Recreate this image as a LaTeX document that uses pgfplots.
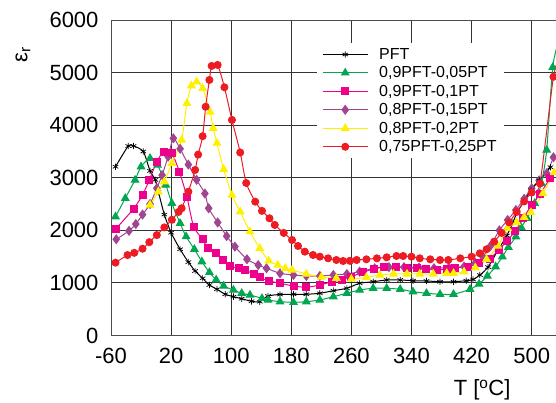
\documentclass[border=0pt]{standalone}
\usepackage{fontspec}
\setmainfont{Liberation Sans}
\usepackage{pgfplots}
\pgfplotsset{compat=1.18}
\usepackage{pgfplotstable}
\usetikzlibrary{calc}
\definecolor{cgreen}{RGB}{0,166,80}
\definecolor{cmag}{RGB}{236,0,140}
\definecolor{cpur}{RGB}{160,70,145}
\definecolor{cyel}{RGB}{255,240,0}
\definecolor{cred}{RGB}{237,28,36}

\pgfplotstableread{
x y
-54 3210
-37 3604
-30 3604
-17 3500
-8 3130
-1 2960
3 2735
11 2300
20 1955
32 1640
43 1395
52 1227
62 1088
71 960
81 879
92 784
103 738
114 700
127 650
138 643
149 751
165 780
183 784
200 784
218 803
236 852
254 898
271 993
289 1023
307 1056
325 1056
342 1042
360 1037
378 1023
396 1023
413 1042
422 1065
431 1150
442 1300
455 1620
467 1900
475 2150
481 2350
490 2550
499 2760
510 2950
525 3200
}\tblPFT

\pgfplotstableread{
x y
-54 2260
-41 2610
-28 2957
-20 3211
-8 3370
2 3243
13 2862
21 2514
32 2134
40 1880
51 1640
61 1404
71 1200
80 1060
90 941
103 865
114 803
125 770
141 707
149 675
165 643
183 631
200 643
218 675
236 738
254 803
271 865
289 898
307 898
325 879
342 833
360 803
378 784
396 784
418 879
430 980
441 1132
452 1309
461 1499
469 1678
479 1879
486 2058
494 2229
504 2514
513 2895
520 3528
528 5100
536 5600
}\tblG

\pgfplotstableread{
x y
-54 2020
-30 2410
-18 2672
-9 2957
1 3306
10 3496
21 3465
31 3116
41 2640
50 2070
62 1830
69 1658
80 1563
89 1436
98 1322
110 1278
118 1246
130 1170
138 1107
150 1040
165 993
183 941
200 917
218 960
234 1023
247 1056
260 1120
275 1200
290 1270
303 1309
320 1309
334 1290
347 1278
360 1265
374 1246
387 1265
398 1290
415 1309
430 1370
444 1460
456 1620
467 1800
478 1980
489 2240
500 2480
511 2690
525 3000
}\tblM

\pgfplotstableread{
x y
-53 1830
-36 1990
-27 2120
-18 2300
-8 2500
1 2800
8 3050
16 3400
23 3750
32 3550
43 3250
54 2960
65 2700
70 2420
82 2150
94 1890
105 1690
121 1450
136 1340
147 1278
165 1183
183 1151
200 1132
218 1132
236 1151
254 1170
271 1214
291 1278
310 1300
330 1300
350 1290
370 1280
390 1290
410 1310
425 1380
435 1500
445 1700
457 2000
468 2197
479 2387
490 2600
500 2800
510 2950
520 3085
529 3389
}\tblP

\pgfplotstableread{
x y
-8 2482
3 2735
11 2925
21 3275
34 3718
41 4416
47 4750
54 4827
62 4700
72 4250
76 3941
81 3660
90 3160
101 2672
112 2355
125 1975
138 1658
150 1420
162 1341
172 1278
181 1246
200 1170
220 1110
240 1090
260 1075
280 1107
298 1151
316 1170
334 1170
351 1170
369 1170
387 1183
396 1183
410 1210
425 1290
440 1450
455 1700
468 2040
480 2150
490 2250
499 2340
515 2700
530 3100
}\tblY

\pgfplotstableread{
x y
-54 1385
-38 1530
-29 1572
-18 1650
-9 1775
1 1910
11 2055
21 2200
30 2350
34 2420
43 2735
52 3148
56 3440
62 3790
66 4350
71 4860
74 5126
82 5145
91 4720
101 4099
112 3480
120 2900
132 2545
141 2370
151 2229
158 2102
170 1950
181 1816
189 1702
198 1594
209 1531
218 1499
229 1468
240 1436
249 1417
258 1420
267 1436
280 1449
294 1468
307 1487
320 1512
329 1512
340 1499
351 1468
365 1449
378 1436
389 1436
405 1468
420 1499
431 1563
440 1640
450 1784
460 1950
470 2150
480 2350
490 2550
500 2720
511 2890
529 4920
538 5300
}\tblR

\begin{document}
\begin{tikzpicture}
\begin{axis}[
  scale only axis, width=445pt, height=315.5pt,
  xmin=-60, xmax=532.4, ymin=0, ymax=6000,
  xtick={-60,20,...,500}, ytick={0,1000,...,6000},
  axis x line=box, axis y line=left,
  axis line style={-, draw=black!70, line width=0.9pt},
  grid=major, major grid style={black!80, line width=0.9pt},
  major tick length=0pt,
  tick label style={font=\fontsize{22}{24}\selectfont},
  /pgf/number format/assume math mode=true,
  /pgf/number format/1000 sep={},
  xticklabel style={yshift=-9pt},
  yticklabel style={xshift=-9pt},
  ylabel={ε\textsubscript{r}},
  every axis y label/.style={at={(axis description cs:-0.198,0.889)}, rotate=90, anchor=center, font=\fontsize{22}{24}\selectfont},
  xlabel={T [\textsuperscript{o}C]},
  every axis x label/.style={at={(axis description cs:0.834,0)}, anchor=center, yshift=-54.5pt, font=\fontsize{22}{24}\selectfont},
  legend style={at={(axis description cs:0.463,0.927)}, anchor=north west, draw=none, fill=white,
    font=\fontsize{16}{18}\selectfont, inner xsep=5pt, inner ysep=3pt, row sep=1.8pt,
    nodes={inner sep=2pt},
    /tikz/every odd column/.append style={column sep=9pt}},
  legend cell align=left,
  legend image code/.code={\draw[mark repeat=2,mark phase=2,#1] plot coordinates {(0pt,0pt) (22.5pt,0pt) (45pt,0pt)};},
  every axis plot/.append style={line width=1pt, smooth, tension=0.4},
]
\addplot[cpur, mark=diamond*, mark size=4.3pt, mark options={fill=cpur, draw=cpur}, forget plot] table {\tblP};
\addplot[black, mark=asterisk, mark size=3.2pt, mark options={line width=0.7pt}] table {\tblPFT};
\addlegendentry{PFT}
\addplot[cgreen, mark=triangle*, mark size=4.2pt, mark options={fill=cgreen}] table {\tblG};
\addlegendentry{0,9PFT-0,05PT}
\addplot[cmag, mark=square*, mark size=3.5pt, mark options={fill=cmag}] table {\tblM};
\addlegendentry{0,9PFT-0,1PT}
\addlegendimage{cpur, mark=diamond*, mark size=4.3pt, mark options={fill=cpur, draw=cpur}, line width=1pt}
\addlegendentry{0,8PFT-0,15PT}
\addplot[cyel, mark=triangle*, mark size=4.2pt, mark options={fill=cyel}] table {\tblY};
\addlegendentry{0,8PFT-0,2PT}
\addplot[cred, mark=*, mark size=3.5pt, mark options={fill=cred}] table {\tblR};
\addlegendentry{0,75PFT-0,25PT}
\end{axis}
\pgfresetboundingbox
\path[use as bounding box] ($(current axis.south west)+(-111pt,-67.5pt)$) rectangle ($(current axis.north east)+(0pt,20pt)$);
\end{tikzpicture}
\end{document}
